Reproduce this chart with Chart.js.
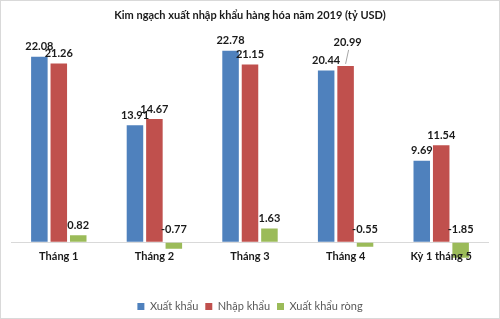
<!DOCTYPE html>
<html>
<head>
<meta charset="utf-8">
<script src="https://cdn.jsdelivr.net/npm/chart.js@4"></script>
<style>
  html, body { margin: 0; padding: 0; background: #fff; }
  #wrap { width: 500px; height: 319px; box-sizing: border-box; border: 1px solid #d9d9d9; overflow: hidden; }
</style>
</head>
<body>
<div id="wrap"><canvas id="tradeChart" width="498" height="317"></canvas></div>
<script>
const categories = ['Tháng 1', 'Tháng 2', 'Tháng 3', 'Tháng 4', 'Kỳ 1 tháng 5'];
const exports = [22.08, 13.91, 22.78, 20.44, 9.69];
const imports = [21.26, 14.67, 21.15, 20.99, 11.54];
const netExports = [0.82, -0.77, 1.63, -0.55, -1.85];

const FONT = 'Lato, "Open Sans", sans-serif';

// nhãn giá trị + nhãn danh mục (vẽ tay, sát đường 0 như bản gốc)
const valueLabels = {
  id: 'valueLabels',
  afterDatasetsDraw(chart, args, opts) {
    const ctx = chart.ctx;
    const zeroY = chart.scales.y.getPixelForValue(0);
    const xScale = chart.scales.x;
    ctx.save();
    ctx.font = 'bold 11px ' + FONT;
    ctx.fillStyle = '#1a1a1a';
    ctx.textAlign = 'center';
    ctx.textBaseline = 'middle';
    chart.data.datasets.forEach((ds, di) => {
      const meta = chart.getDatasetMeta(di);
      meta.data.forEach((bar, i) => {
        const v = ds.data[i];
        let y = v >= 0 ? bar.y - 10 : zeroY - 13;
        const shift = (opts.shifts || []).find(s => s.ds === di && s.i === i);
        if (shift) {
          const ly = y + shift.dy;
          ctx.strokeStyle = '#a6a6a6';
          ctx.lineWidth = 1;
          ctx.beginPath();
          ctx.moveTo(bar.x + 3, ly + 7);
          ctx.lineTo(bar.x, bar.y - 2);
          ctx.stroke();
          y = ly;
        }
        ctx.fillText(v.toFixed(2), bar.x + (shift ? 2 : 0), y);
      });
    });
    chart.data.labels.forEach((lab, i) => {
      ctx.fillText(lab, xScale.getPixelForValue(i), zeroY + 14);
    });
    ctx.restore();
  }
};

new Chart(document.getElementById('tradeChart'), {
  type: 'bar',
  data: {
    labels: categories,
    datasets: [
      { label: 'Xuất khẩu', data: exports, backgroundColor: '#4f81bd' },
      { label: 'Nhập khẩu', data: imports, backgroundColor: '#c0504d' },
      { label: 'Xuất khẩu ròng', data: netExports, backgroundColor: '#9bbb59' }
    ]
  },
  options: {
    responsive: false,
    animation: false,
    layout: { padding: { left: 10, right: 10, top: 0, bottom: -4 } },
    datasets: { bar: { categoryPercentage: 0.61, barPercentage: 0.85 } },
    scales: {
      x: {
        grid: { display: false, drawTicks: false },
        border: { display: false },
        ticks: { display: false },
        afterFit(scale) { scale.height = 35; }
      },
      y: {
        min: -2,
        max: 25,
        ticks: { display: false, stepSize: 1 },
        border: { display: false },
        grid: { drawTicks: false, color: c => c.tick.value === 0 ? '#d9d9d9' : 'transparent' }
      }
    },
    plugins: {
      title: {
        display: true,
        text: 'Kim ngạch xuất nhập khẩu hàng hóa năm 2019 (tỷ USD)',
        color: '#1a1a1a',
        font: { family: FONT, size: 11, weight: 'bold' },
        padding: { top: 8, bottom: 10 }
      },
      legend: {
        position: 'bottom',
        labels: { boxWidth: 7, boxHeight: 7, padding: 7, color: '#595959', font: { family: FONT, size: 11 } }
      },
      tooltip: { enabled: false },
      valueLabels: { shifts: [{ ds: 1, i: 3, dy: -13 }] }
    }
  },
  plugins: [valueLabels]
});
</script>
</body>
</html>
